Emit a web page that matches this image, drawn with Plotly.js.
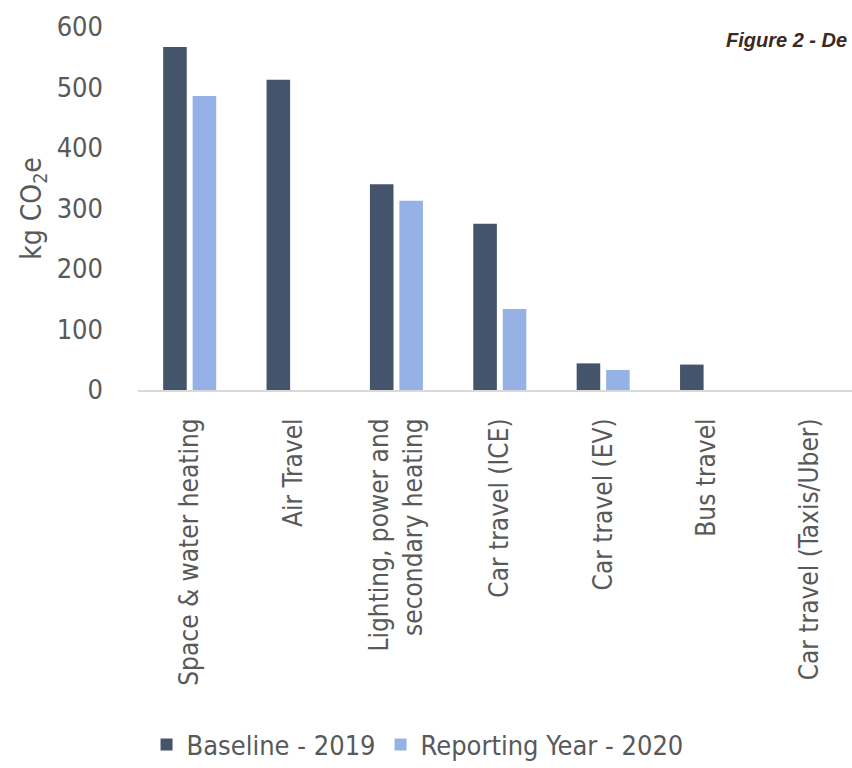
<!DOCTYPE html>
<html>
<head>
<meta charset="utf-8">
<script src="https://cdn.plot.ly/plotly-3.0.1.min.js"></script>
<style>html,body{margin:0;padding:0;background:#fff;}#chart{width:852px;height:768px;}</style>
</head>
<body>
<div id="chart"></div>
<script>
var categories = [
  "Space & water heating",
  "Air Travel",
  "Lighting, power and<br>secondary heating",
  "Car travel (ICE)",
  "Car travel (EV)",
  "Bus travel",
  "Car travel (Taxis/Uber)"
];
var baseline2019 = [567, 513, 340, 275, 44, 42, 0];
var reporting2020 = [486, 0, 313, 134, 33, 0, 0];
var seriesNames = ["Baseline - 2019", "Reporting Year - 2020"];
var yTicks = [0, 100, 200, 300, 400, 500, 600];

var FONT = '"Liberation Sans Narrow", "DejaVu Sans Condensed", "Roboto Condensed", "Arial Narrow", "Roboto", sans-serif';
var GREY = '#595959';

var traces = [
  {
    type: 'bar', name: seriesNames[0], x: categories, y: baseline2019,
    marker: {color: '#44546A', line: {width: 0}},
    hoverinfo: 'x+y'
  },
  {
    type: 'bar', name: seriesNames[1], x: categories, y: reporting2020,
    marker: {color: '#95B1E6', line: {width: 0}},
    hoverinfo: 'x+y'
  }
];

var layout = {
  width: 852, height: 768,
  margin: {l: 138, r: 0, t: 27, b: 377.5, pad: 0},
  paper_bgcolor: '#ffffff', plot_bgcolor: '#ffffff',
  barmode: 'group', bargap: 0.43, bargroupgap: 0.2,
  font: {family: FONT, color: GREY, size: 27},
  showlegend: true,
  legend: {
    orientation: 'h', xref: 'container', yref: 'container',
    x: 0.172, xanchor: 'left', y: 0.03, yanchor: 'middle',
    font: {family: FONT, color: GREY, size: 27},
    itemwidth: 30, traceorder: 'normal'
  },
  xaxis: {
    type: 'category', range: [-0.5, 6.407],
    showline: true, linecolor: '#d9d9d9', linewidth: 2,
    showgrid: false, zeroline: false, ticks: '',
    tickangle: -90, ticklabelstandoff: 16,
    tickfont: {family: FONT, color: GREY, size: 26}
  },
  yaxis: {
    range: [0, 600], tickvals: yTicks, ticktext: yTicks.map(String),
    showline: false, showgrid: false, zeroline: false, ticks: '',
    ticklabelstandoff: 34,
    tickfont: {family: FONT, color: GREY, size: 27},
    title: {text: 'kg CO<sub>2</sub>e', font: {family: FONT, color: GREY, size: 28}, standoff: 6}
  },
  annotations: [
    {
      text: '<b><i>Figure 2 - De</i></b>', xref: 'paper', yref: 'paper',
      x: 0.821, xanchor: 'left', y: 1.0, yanchor: 'middle', yshift: -13,
      showarrow: false,
      font: {family: '"Liberation Sans", Arial, sans-serif', size: 20, color: '#3b2a20'}
    }
  ]
};

Plotly.newPlot('chart', traces, layout, {displayModeBar: false, staticPlot: true});
</script>
</body>
</html>
